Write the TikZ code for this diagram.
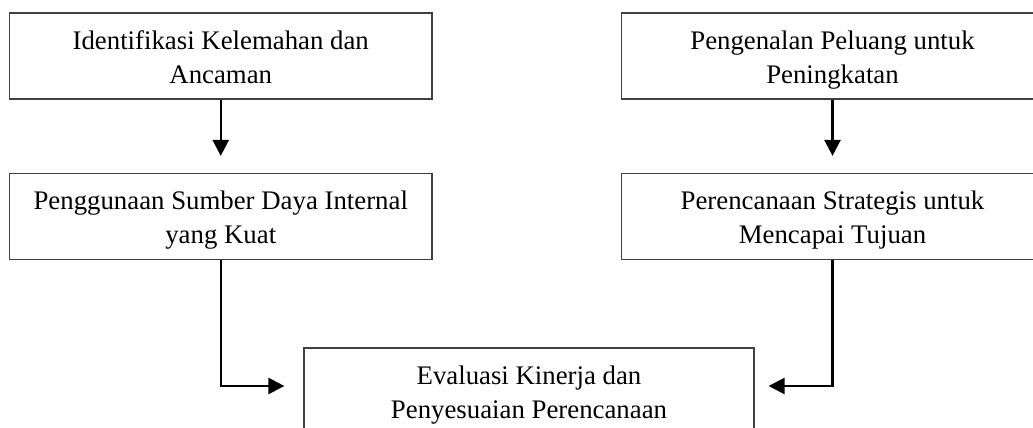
\documentclass[tikz,border=0pt]{standalone}
\usepackage{fontspec}
\setmainfont{Liberation Serif}
\usetikzlibrary{arrows.meta,calc}
\newcommand\twolines[2]{\raisebox{-3.5pt}[\height][\depth]{\begin{tabular}{@{}c@{}}#1\\#2\end{tabular}}}
\begin{document}
\begin{tikzpicture}[x=1pt,y=-1pt,
  box/.style={draw=black!75,line width=1.2pt,minimum width=422.5pt,minimum height=86pt,
    inner sep=0pt,font=\fontsize{26.8}{34}\selectfont},
  arr/.style={draw=black,line width=2.4pt,-{Triangle[length=16pt,width=16pt]}}]
\useasboundingbox (0,0) rectangle (1033,428);
\node[box] (a) at (220.75,56) {\twolines{Identifikasi Kelemahan dan}{Ancaman}};
\node[box] (b) at (220.75,216.5) {\twolines{Penggunaan Sumber Daya Internal}{yang Kuat}};
\node[box] (c) at (832.5,56) {\twolines{Pengenalan Peluang untuk}{Peningkatan}};
\node[box] (d) at (832.5,216.5) {\twolines{Perencanaan Strategis untuk}{Mencapai Tujuan}};
\node[box,minimum width=450pt] (e) at (529,391) {\twolines{Evaluasi Kinerja dan}{Penyesuaian Perencanaan}};
\draw[arr,shorten >=17pt] (a.south) -- (b.north);
\draw[arr,shorten >=17pt] (c.south) -- (d.north);
\draw[arr,shorten >=19pt] (b.south) |- ([yshift=5pt]e.west);
\draw[arr,shorten >=14pt] (d.south) |- ([yshift=5pt]e.east);
\end{tikzpicture}
\end{document}
